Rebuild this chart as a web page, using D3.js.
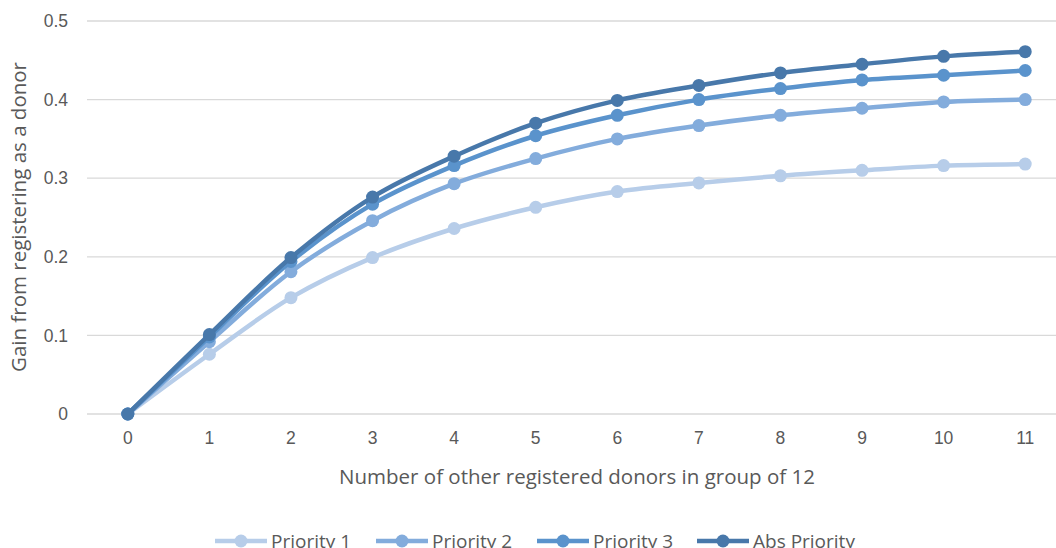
<!DOCTYPE html>
<html>
<head>
<meta charset="utf-8">
<script src="https://cdn.jsdelivr.net/npm/d3@7"></script>
<style>
  html, body { margin: 0; padding: 0; background: #fff; }
  svg { display: block; font-family: "Open Sans", "Noto Sans", sans-serif; }
</style>
</head>
<body>
<div id="chart"></div>
<script>
const categories = [0, 1, 2, 3, 4, 5, 6, 7, 8, 9, 10, 11];
const priority1 = [0, 0.076, 0.148, 0.199, 0.236, 0.263, 0.283, 0.294, 0.303, 0.310, 0.316, 0.318];
const priority2 = [0, 0.092, 0.181, 0.246, 0.293, 0.325, 0.350, 0.367, 0.380, 0.389, 0.397, 0.400];
const priority3 = [0, 0.098, 0.194, 0.267, 0.316, 0.354, 0.380, 0.400, 0.414, 0.425, 0.431, 0.437];
const absPriority = [0, 0.101, 0.199, 0.276, 0.328, 0.370, 0.399, 0.418, 0.434, 0.445, 0.455, 0.461];
const yTicks = [0, 0.1, 0.2, 0.3, 0.4, 0.5];
const seriesNames = ["Priority 1", "Priority 2", "Priority 3", "Abs Priority"];
const seriesColors = ["#b7cde9", "#83acdc", "#5a93cc", "#4878aa"];

const width = 1056, height = 548;
const plotLeft = 87, plotRight = 1066, plotTop = 21, plotBottom = 414;

const svg = d3.select("#chart").append("svg")
  .attr("width", width)
  .attr("height", height);

// scales
const xScale = d3.scaleBand()
  .domain(categories)
  .range([plotLeft, plotRight]);
const xPos = d => xScale(d) + xScale.bandwidth() / 2;

const yScale = d3.scaleLinear()
  .domain([0, 0.5])
  .range([plotBottom, plotTop]);

// gridlines
svg.append("g")
  .selectAll("line")
  .data(yTicks)
  .enter()
  .append("line")
  .attr("x1", plotLeft)
  .attr("x2", plotRight)
  .attr("y1", d => yScale(d))
  .attr("y2", d => yScale(d))
  .attr("stroke", "#d9d9d9")
  .attr("stroke-width", 1.3);

// y axis labels
const yAxis = svg.append("g")
  .attr("transform", "translate(" + (plotLeft - 4) + ",0)")
  .call(d3.axisLeft(yScale).tickValues(yTicks).tickSize(0).tickPadding(15)
    .tickFormat(d => d === 0 ? "0" : d3.format(".1f")(d)));
yAxis.select(".domain").remove();
yAxis.selectAll("text")
  .attr("fill", "#595959")
  .style("font-size", "17.5px");

// x axis labels
const xAxis = svg.append("g")
  .attr("transform", "translate(0," + plotBottom + ")")
  .call(d3.axisBottom(xScale).tickSize(0).tickPadding(18));
xAxis.select(".domain").remove();
xAxis.selectAll("text")
  .attr("fill", "#595959")
  .style("font-size", "17.5px");

// axis titles
svg.append("text")
  .attr("x", 577)
  .attr("y", 484)
  .attr("text-anchor", "middle")
  .attr("fill", "#595959")
  .style("font-size", "20.5px")
  .text("Number of other registered donors in group of 12");

svg.append("text")
  .attr("transform", "translate(26,217) rotate(-90)")
  .attr("text-anchor", "middle")
  .attr("fill", "#595959")
  .style("font-size", "20.5px")
  .text("Gain from registering as a donor");

// series
const allSeries = [priority1, priority2, priority3, absPriority];
const line = d3.line()
  .x((d, i) => xPos(categories[i]))
  .y(d => yScale(d))
  .curve(d3.curveCatmullRom.alpha(0.5));

allSeries.forEach((values, si) => {
  const g = svg.append("g");
  g.append("path")
    .datum(values)
    .attr("d", line)
    .attr("fill", "none")
    .attr("stroke", seriesColors[si])
    .attr("stroke-width", 4.5);
  g.selectAll("circle")
    .data(values)
    .enter()
    .append("circle")
    .attr("cx", (d, i) => xPos(categories[i]))
    .attr("cy", d => yScale(d))
    .attr("r", 6.5)
    .attr("fill", seriesColors[si]);
});

// legend
const legendX = [215, 376, 537, 697];
const legend = svg.append("g");
seriesNames.forEach((name, i) => {
  const lg = legend.append("g").attr("transform", "translate(" + legendX[i] + ",541)");
  lg.append("line")
    .attr("x1", 0).attr("x2", 52)
    .attr("y1", 0).attr("y2", 0)
    .attr("stroke", seriesColors[i])
    .attr("stroke-width", 4.5);
  lg.append("circle")
    .attr("cx", 26).attr("cy", 0).attr("r", 6.5)
    .attr("fill", seriesColors[i]);
  lg.append("text")
    .attr("x", 56)
    .attr("y", 7)
    .attr("fill", "#595959")
    .style("font-size", "19px")
    .text(name);
});
</script>
</body>
</html>
